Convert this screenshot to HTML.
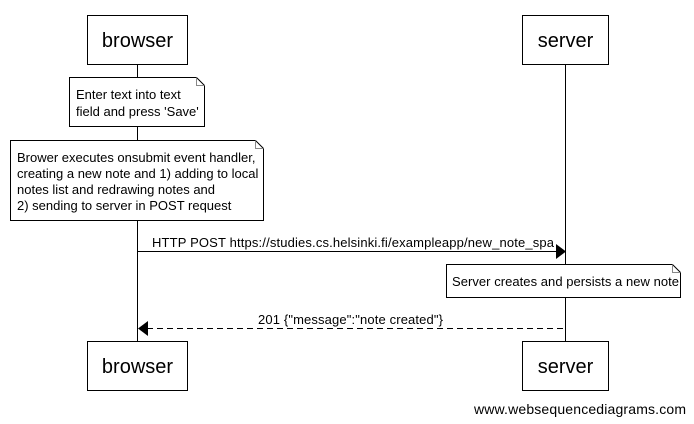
<!DOCTYPE html>
<html><head><meta charset="utf-8"><style>
html,body{margin:0;padding:0;background:#fff;}
svg{display:block;font-family:"Liberation Sans",Arial,sans-serif;}
</style></head><body>
<svg width="694" height="424" viewBox="0 0 694 424" xmlns="http://www.w3.org/2000/svg">
<g stroke="#000" stroke-width="1" fill="none">
<line x1="137.5" y1="64" x2="137.5" y2="341"/>
<line x1="565.5" y1="64" x2="565.5" y2="341"/>
<rect x="87.5" y="15.5" width="100" height="49" fill="#fff"/>
<rect x="522.5" y="15.5" width="86" height="49" fill="#fff"/>
<rect x="87.5" y="341.5" width="100" height="49" fill="#fff"/>
<rect x="522.5" y="341.5" width="86" height="49" fill="#fff"/>
<path d="M69.5 77.5 H196.5 L204.5 85.5 V126.5 H69.5 Z" fill="#fff"/>
<path d="M196.5 77.5 V85.5 H204.5" stroke="#888"/>
<path d="M10.5 140.5 H255.5 L263.5 148.5 V220.5 H10.5 Z" fill="#fff"/>
<path d="M255.5 140.5 V148.5 H263.5" stroke="#888"/>
<path d="M446.5 264.5 H672.5 L680.5 272.5 V297.5 H446.5 Z" fill="#fff"/>
<path d="M672.5 264.5 V272.5 H680.5" stroke="#888"/>
<line x1="138" y1="251.5" x2="556" y2="251.5"/>
<line x1="147" y1="328.5" x2="565" y2="328.5" stroke-dasharray="6,4"/>
</g>
<polygon points="556,244 566,251.5 556,259" fill="#000"/>
<polygon points="148,321 138,328.5 148,336" fill="#000"/>
<g fill="#000" font-size="20" text-anchor="middle">
<text x="137.5" y="47">browser</text>
<text x="565.5" y="47">server</text>
<text x="137.5" y="373">browser</text>
<text x="565.5" y="373">server</text>
</g>
<g fill="#000" font-size="13">
<text x="76" y="99">Enter text into text</text>
<text x="76" y="116">field and press 'Save'</text>
<text x="17" y="162">Brower executes onsubmit event handler,</text>
<text x="17" y="178">creating a new note and 1) adding to local</text>
<text x="17" y="194">notes list and redrawing notes and</text>
<text x="17" y="210">2) sending to server in POST request</text>
<text x="452" y="286" textLength="227" lengthAdjust="spacing">Server creates and persists a new note</text>
<text x="152" y="247" textLength="402" lengthAdjust="spacing">HTTP POST https://studies.cs.helsinki.fi/exampleapp/new_note_spa</text>
<text x="258" y="324" textLength="185" lengthAdjust="spacing">201 {"message":"note created"}</text>
<text x="474" y="414" font-size="14" textLength="212" lengthAdjust="spacing">www.websequencediagrams.com</text>
</g>
</svg>
</body></html>
